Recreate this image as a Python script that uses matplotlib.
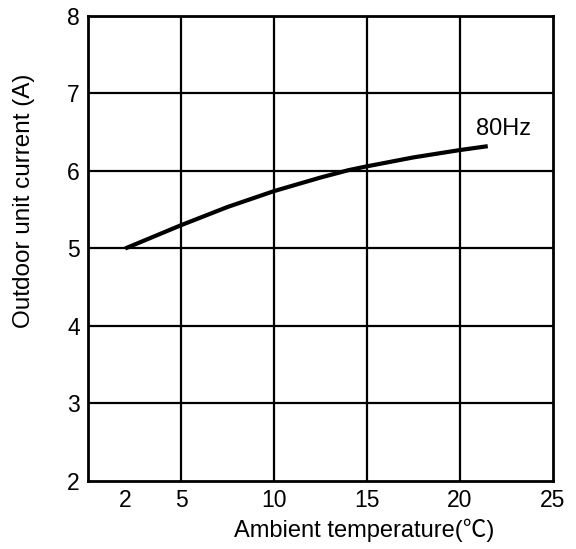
import matplotlib.pyplot as plt

# Curve (80Hz)
temp = [2, 5, 7.5, 10, 12.5, 14, 15, 17.5, 20, 21.5]
current = [5.0, 5.30, 5.535, 5.74, 5.915, 6.01, 6.06, 6.175, 6.27, 6.32]

x_ticks = [2, 5, 10, 15, 20, 25]
x_grid = [5, 10, 15, 20]
y_ticks = [2, 3, 4, 5, 6, 7, 8]
y_grid = [3, 4, 5, 6, 7]

plt.rcParams['font.family'] = ['Liberation Sans', 'Noto Sans CJK JP', 'DejaVu Sans']

fig = plt.figure(figsize=(5.76, 5.49), dpi=100)
ax = fig.add_axes([0.1528, 0.1239, 0.807, 0.847])

for gx in x_grid:
    ax.axvline(gx, color='black', lw=1.6, zorder=1)
for gy in y_grid:
    ax.axhline(gy, color='black', lw=1.6, zorder=1)

ax.plot(temp, current, color='black', lw=3.0, solid_capstyle='butt', zorder=3)
ax.text(22.35, 6.54, '80Hz', fontsize=17, ha='center', va='center')

ax.set_xlim(0, 25)
ax.set_ylim(2, 8)
ax.set_xticks(x_ticks)
ax.set_yticks(y_ticks)
ax.tick_params(length=0, labelsize=16.5, pad=6)
for s in ax.spines.values():
    s.set_linewidth(2)

ax.set_xlabel('Ambient temperature(℃)', fontsize=17)
ax.xaxis.set_label_coords(0.594, -0.08)
ax.set_ylabel('Outdoor unit current (A)', fontsize=17.5)
ax.yaxis.set_label_coords(-0.114, 0.602)

plt.savefig('out.png', dpi=100)
plt.close()
